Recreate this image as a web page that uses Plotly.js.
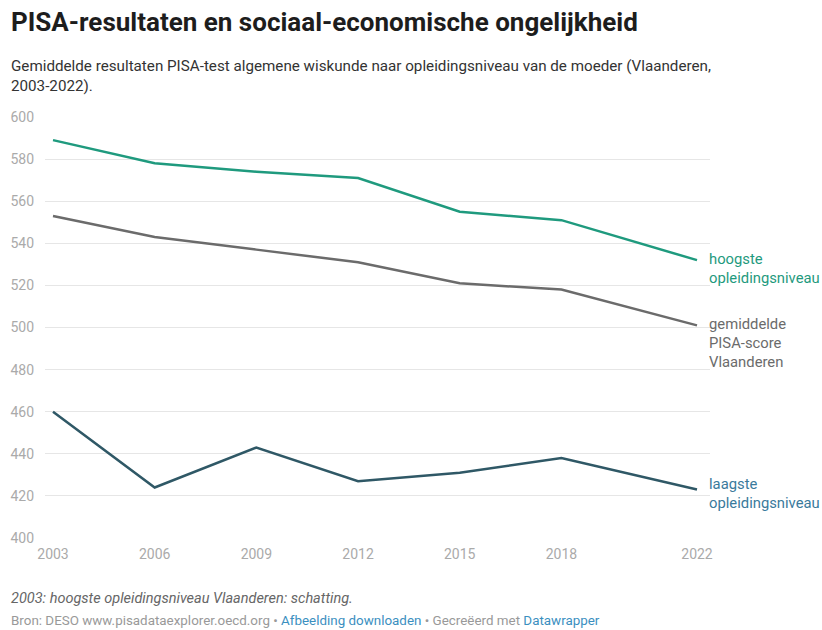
<!DOCTYPE html>
<html>
<head>
<meta charset="utf-8">
<script src="https://cdn.plot.ly/plotly-3.0.1.min.js"></script>
<style>
html,body{margin:0;padding:0;background:#fff;}
#chart{width:822px;height:630px;}
</style>
</head>
<body>
<div id="chart"></div>
<script>
const years = [2003, 2006, 2009, 2012, 2015, 2018, 2022];
const hoogste = [589, 578, 574, 571, 555, 551, 532];
const gemiddelde = [553, 543, 537, 531, 521, 518, 501];
const laagste = [460, 424, 443, 427, 431, 438, 423];
const yTicks = [400, 420, 440, 460, 480, 500, 520, 540, 560, 580, 600];

const F = 'Roboto, "Noto Sans", sans-serif';
const W = 822, H = 630;
const L = 45, R = 710, T = 117, B = 538;
const px = x => (x - L) / (R - L);
const py = y => (B - y) / (B - T);

const traces = [
  {x: years, y: hoogste, mode: 'lines', line: {color: '#1f9a7e', width: 2.5}, hoverinfo: 'x+y'},
  {x: years, y: gemiddelde, mode: 'lines', line: {color: '#6b6b6b', width: 2.5}, hoverinfo: 'x+y'},
  {x: years, y: laagste, mode: 'lines', line: {color: '#2f5866', width: 2.5}, hoverinfo: 'x+y'}
];

const last = years.length - 1;
const annotations = [
  {xref: 'paper', yref: 'paper', x: px(9), y: py(22), xanchor: 'left', yanchor: 'middle', showarrow: false,
   text: '<b>PISA-resultaten en sociaal-economische ongelijkheid</b>', font: {family: F, size: 26, color: '#1d1d1d'}},
  {xref: 'paper', yref: 'paper', x: px(9), y: py(55), xanchor: 'left', yanchor: 'top', showarrow: false, align: 'left',
   text: 'Gemiddelde resultaten PISA-test algemene wiskunde naar opleidingsniveau van de moeder (Vlaanderen,<br>2003-2022).',
   font: {family: F, size: 15.2, color: '#333333'}},
  {xref: 'x', yref: 'y', x: years[last], y: hoogste[last], xanchor: 'left', yanchor: 'top', xshift: 10, yshift: 12, showarrow: false, align: 'left',
   text: 'hoogste<br>opleidingsniveau', font: {family: F, size: 14.8, color: '#1f9a7e'}},
  {xref: 'x', yref: 'y', x: years[last], y: gemiddelde[last], xanchor: 'left', yanchor: 'top', xshift: 10, yshift: 12, showarrow: false, align: 'left',
   text: 'gemiddelde<br>PISA-score<br>Vlaanderen', font: {family: F, size: 14.8, color: '#6b6b6b'}},
  {xref: 'x', yref: 'y', x: years[last], y: laagste[last], xanchor: 'left', yanchor: 'top', xshift: 10, yshift: 17, showarrow: false, align: 'left',
   text: 'laagste<br>opleidingsniveau', font: {family: F, size: 14.8, color: '#3a7a9c'}},
  {xref: 'paper', yref: 'paper', x: px(9), y: py(598), xanchor: 'left', yanchor: 'middle', showarrow: false,
   text: '<i>2003: hoogste opleidingsniveau Vlaanderen: schatting.</i>', font: {family: F, size: 14.5, color: '#666666'}},
  {xref: 'paper', yref: 'paper', x: px(9), y: py(620), xanchor: 'left', yanchor: 'middle', showarrow: false,
   text: 'Bron: DESO www.pisadataexplorer.oecd.org • <span style="color:#3b8fbf">Afbeelding downloaden</span> • Gecreëerd met <span style="color:#3b8fbf">Datawrapper</span>',
   font: {family: F, size: 13.4, color: '#999999'}}
];

const layout = {
  width: W, height: H,
  margin: {l: L, r: W - R, t: T, b: H - B, pad: 0},
  paper_bgcolor: '#ffffff', plot_bgcolor: '#ffffff',
  showlegend: false,
  xaxis: {
    range: [2003 - 8 / 33.9, 2022 + 13 / 33.9],
    tickvals: years, ticktext: years.map(String),
    showgrid: false, zeroline: false, showline: false, ticks: '', ticklabelstandoff: 6,
    tickfont: {family: F, size: 14, color: '#aaaaaa'}
  },
  yaxis: {
    range: [400, 600],
    tickvals: yTicks, ticktext: yTicks.map(String),
    showgrid: true, gridcolor: '#e6e6e6', gridwidth: 1,
    zeroline: false, showline: false, ticks: '', ticklabelstandoff: 10,
    tickfont: {family: F, size: 14, color: '#aaaaaa'}
  },
  annotations: annotations
};

Plotly.newPlot('chart', traces, layout, {displayModeBar: false, staticPlot: true});
</script>
</body>
</html>
